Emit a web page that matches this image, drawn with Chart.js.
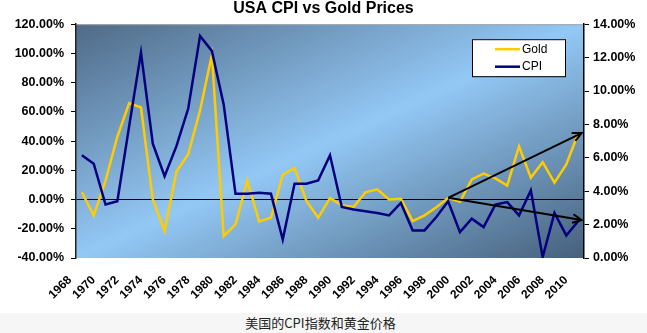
<!DOCTYPE html>
<html>
<head>
<meta charset="utf-8">
<script src="https://cdn.jsdelivr.net/npm/chart.js@4"></script>
<style>
  html, body { margin: 0; padding: 0; background: #fff; }
  #wrap { position: relative; width: 647px; height: 313px; }
  #caption {
    width: 647px; height: 20px; background: #f6f6f6; color: #222;
    font: 13px "Noto Sans CJK SC", sans-serif; line-height: 20px;
    text-align: center; text-indent: -6px;
  }
</style>
</head>
<body>
<div id="wrap"><canvas id="cpiGoldChart"></canvas></div>
<div id="caption">美国的CPI指数和黄金价格</div>
<script>
//categories
const years = ['1968', '1969', '1970', '1971', '1972', '1973', '1974', '1975', '1976', '1977',
  '1978', '1979', '1980', '1981', '1982', '1983', '1984', '1985', '1986', '1987',
  '1988', '1989', '1990', '1991', '1992', '1993', '1994', '1995', '1996', '1997',
  '1998', '1999', '2000', '2001', '2002', '2003', '2004', '2005', '2006', '2007',
  '2008', '2009', '2010'];

//gold, yearly change in % (left axis)
const gold = [5, -11, 13, 43, 66, 63, 0, -21.6, 19, 31,
  61, 99, -25, -17, 13, -15, -12.5, 17, 21.6, -1,
  -12.5, 1, -4, -5, 5, 7, 0, 0.5, -14.8, -10.8,
  -5.3, 1, -1.5, 13.8, 17.7, 14.5, 9.5, 36.4, 15, 25.6,
  11.6, 24, 45];

//cpi, inflation in % (right axis)
const cpi = [6.15, 5.65, 3.2, 3.4, 7.9, 12.3, 6.85, 4.9, 6.7, 8.95,
  13.3, 12.4, 9.2, 3.85, 3.85, 3.9, 3.85, 1.1, 4.45, 4.45,
  4.65, 6.15, 3.05, 2.9, 2.8, 2.7, 2.55, 3.3, 1.65, 1.65,
  2.45, 3.4, 1.55, 2.35, 1.85, 3.2, 3.35, 2.55, 4.05, 0.05,
  2.7, 1.35, 2.2];

//trend arrows, in year / gold-axis units
const trendStart = [1999, 1.2];
const trendEnds = [[2010.3, 45.5], [2010.3, -14]];

const FONT = 'Arial, "Liberation Sans", sans-serif';

//gradient behind the plot, dark corners top-left and bottom-right
const plotBackground = {
  id: 'plotBackground',
  beforeDraw(chart) {
    const ctx = chart.ctx, a = chart.chartArea;
    const w = a.right - a.left, h = a.bottom - a.top;
    const k = 2 / (w * w + h * h);
    const g = ctx.createLinearGradient(a.left, a.top, a.left + k * w * h * h, a.top + k * w * w * h);
    g.addColorStop(0, '#4f6a87');
    g.addColorStop(0.5, '#93c8f5');
    g.addColorStop(1, '#46607b');
    ctx.save();
    ctx.fillStyle = g;
    ctx.fillRect(a.left, a.top, w, h);
    ctx.strokeStyle = '#a8a8a8';
    ctx.lineWidth = 1;
    ctx.beginPath();
    ctx.moveTo(a.left, a.top + 0.5);
    ctx.lineTo(a.right, a.top + 0.5);
    ctx.stroke();
    ctx.restore();
  }
};

function drawArrow(ctx, x0, y0, x1, y1) {
  const ang = Math.atan2(y1 - y0, x1 - x0);
  ctx.beginPath();
  ctx.moveTo(x0, y0);
  ctx.lineTo(x1, y1);
  ctx.moveTo(x1 - 10 * Math.cos(ang - 0.45), y1 - 10 * Math.sin(ang - 0.45));
  ctx.lineTo(x1, y1);
  ctx.lineTo(x1 - 10 * Math.cos(ang + 0.45), y1 - 10 * Math.sin(ang + 0.45));
  ctx.stroke();
}

const trendArrows = {
  id: 'trendArrows',
  afterDatasetsDraw(chart) {
    const ctx = chart.ctx, xs = chart.scales.x, ys = chart.scales.y;
    const first = Number(years[0]);
    const x0 = xs.getPixelForValue(trendStart[0] - first);
    const y0 = ys.getPixelForValue(trendStart[1]);
    ctx.save();
    ctx.strokeStyle = '#000';
    ctx.lineWidth = 2;
    trendEnds.forEach(function(p) {
      drawArrow(ctx, x0, y0, xs.getPixelForValue(p[0] - first), ys.getPixelForValue(p[1]));
    });
    ctx.restore();
  }
};

//boxed legend inside the plot, top right
const boxLegend = {
  id: 'boxLegend',
  afterDraw(chart) {
    const ctx = chart.ctx, a = chart.chartArea;
    const bx = a.right - 112, by = a.top + 15, bw = 93, bh = 37;
    ctx.save();
    ctx.fillStyle = '#fff';
    ctx.fillRect(bx, by, bw, bh);
    ctx.strokeStyle = '#000';
    ctx.lineWidth = 1;
    ctx.strokeRect(bx + 0.5, by + 0.5, bw, bh);
    ctx.font = '12px ' + FONT;
    ctx.textBaseline = 'middle';
    chart.data.datasets.forEach(function(ds, i) {
      const ly = by + 10 + i * 17.5;
      ctx.strokeStyle = ds.borderColor;
      ctx.lineWidth = 2.5;
      ctx.beginPath();
      ctx.moveTo(bx + 23, ly);
      ctx.lineTo(bx + 48, ly);
      ctx.stroke();
      ctx.fillStyle = '#000';
      ctx.fillText(ds.label, bx + 50, ly);
    });
    ctx.restore();
  }
};

const chart = new Chart(document.getElementById('cpiGoldChart'), {
  type: 'line',
  data: {
    labels: years,
    datasets: [{
      label: 'Gold',
      data: gold,
      borderColor: '#ffcc00',
      borderWidth: 2.5,
      pointRadius: 0,
      tension: 0,
      yAxisID: 'y',
      order: 1
    },
    {
      label: 'CPI',
      data: cpi,
      borderColor: '#000080',
      borderWidth: 2.5,
      pointRadius: 0,
      tension: 0,
      yAxisID: 'y2',
      order: 0
    }]
  },
  options: {
    responsive: true,
    maintainAspectRatio: false,
    animation: false,
    layout: { padding: 0 },
    plugins: {
      legend: { display: false },
      tooltip: { enabled: false },
      title: {
        display: true,
        text: 'USA CPI vs Gold Prices',
        color: '#000',
        font: { family: FONT, size: 16, weight: 'bold', lineHeight: 1.2 },
        padding: { top: -1, bottom: 6 }
      }
    },
    scales: {
      x: {
        type: 'category',
        offset: true,
        grid: { display: false },
        border: { display: false },
        ticks: {
          autoSkip: false,
          minRotation: 45,
          maxRotation: 45,
          padding: 7,
          labelOffset: -12,
          color: '#000',
          font: { family: FONT, size: 12, weight: 'bold' },
          callback: function(value, index) {
            return index % 2 === 0 ? years[index] : '';
          }
        },
        afterFit: function(scale) { scale.height = 55; }
      },
      y: {
        type: 'linear',
        position: 'left',
        min: -40,
        max: 120,
        border: { color: '#222', width: 1.5 },
        grid: {
          color: function(c) { return c.tick && c.tick.value === 0 ? '#000' : 'rgba(0,0,0,0)'; },
          lineWidth: 1,
          tickColor: '#000',
          tickLength: 5
        },
        ticks: {
          stepSize: 20,
          padding: 7,
          color: '#000',
          font: { family: FONT, size: 12.5, weight: 'bold' },
          callback: function(v) { return v.toFixed(2) + '%'; }
        },
        afterFit: function(scale) { scale.width = 76; }
      },
      y2: {
        type: 'linear',
        position: 'right',
        min: 0,
        max: 14,
        border: { color: '#000', width: 1.5 },
        grid: { drawOnChartArea: false, tickColor: '#000', tickLength: 5 },
        ticks: {
          stepSize: 2,
          padding: 4,
          color: '#000',
          font: { family: FONT, size: 12.5, weight: 'bold' },
          callback: function(v) { return v.toFixed(2) + '%'; }
        },
        afterFit: function(scale) { scale.width = 63; }
      }
    }
  },
  plugins: [plotBackground, trendArrows, boxLegend]
});
</script>
</body>
</html>
